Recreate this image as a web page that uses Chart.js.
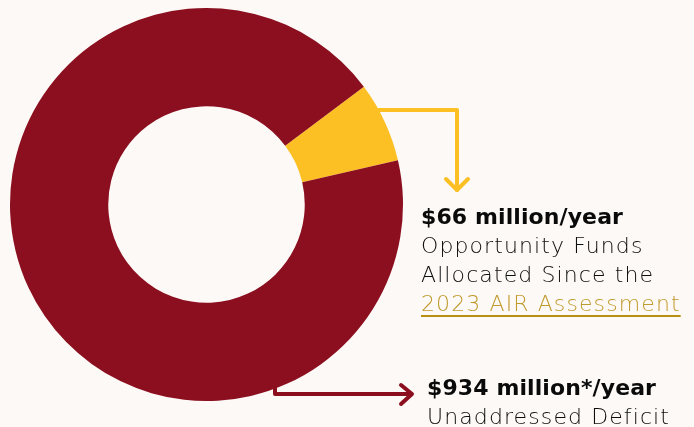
<!DOCTYPE html>
<html>
<head>
<meta charset="utf-8">
<script src="https://cdn.jsdelivr.net/npm/chart.js@4"></script>
<style>
  html, body { margin: 0; padding: 0; background: #fcf9f6; }
  #wrap { position: relative; width: 694px; height: 427px; overflow: hidden; }
  #chart { position: absolute; left: 0; top: 0; }
  .nota { position: absolute; font-family: "DejaVu Sans", sans-serif; font-size: 22px; line-height: 29px; color: #0e0e0e; font-weight: 300; letter-spacing: 1.1px; white-space: nowrap; }
  .nota b { color: #0a0a0a; font-weight: 700; letter-spacing: 0.1px; }
  .nota a { color: #c09a2c; text-decoration: underline; text-decoration-color: #b88f10; text-underline-offset: 4px; text-decoration-thickness: 2px; }
</style>
</head>
<body>
<div id="wrap">
  <canvas id="chart" width="694" height="427"></canvas>
  <div class="nota" id="nota-0" style="left:421px; top:202px;"></div>
  <div class="nota" id="nota-1" style="left:427px; top:373px;"></div>
</div>
<script>
// dados (milhões por ano)
const ROTULOS = ['Opportunity Funds', 'Unaddressed Deficit'];
const VALORES = [66, 934];
const CORES = ['#fdc024', '#8b0f1f'];
const TITULOS = ['$66 million/year', '$934 million*/year'];
const DESCRICOES = [
    ['Opportunity Funds', 'Allocated Since the', '<a>2023 AIR Assessment</a>'],
    ['Unaddressed Deficit']
];

TITULOS.forEach((t, i) => {
    document.getElementById('nota-' + i).innerHTML =
        '<b>' + t + '</b><br>' + DESCRICOES[i].join('<br>');
});

// setas desenhadas a partir da geometria do arco
const setasPlugin = {
    id: 'setas',
    afterDraw(chart) {
        const ctx = chart.ctx;
        const arco = chart.getDatasetMeta(0).data[0];
        const cx = arco.x, cy = arco.y, r = arco.outerRadius;

        ctx.save();
        ctx.lineWidth = 4;
        ctx.lineCap = 'round';
        ctx.lineJoin = 'round';

        // seta amarela
        const yA = 110;
        const xA = cx + Math.sqrt(r * r - (cy - yA) * (cy - yA));
        ctx.strokeStyle = CORES[0];
        ctx.beginPath();
        ctx.moveTo(xA, yA);
        ctx.lineTo(457, yA);
        ctx.lineTo(457, 190);
        ctx.stroke();
        ctx.beginPath();
        ctx.moveTo(446, 179);
        ctx.lineTo(457, 190);
        ctx.lineTo(468, 179);
        ctx.stroke();

        // seta vermelha
        const xB = 275;
        const yB = cy + Math.sqrt(r * r - (xB - cx) * (xB - cx)) - 2;
        ctx.strokeStyle = CORES[1];
        ctx.lineCap = 'butt';
        ctx.beginPath();
        ctx.moveTo(xB, yB);
        ctx.lineTo(xB, 394);
        ctx.lineTo(412, 394);
        ctx.stroke();
        ctx.lineCap = 'round';
        ctx.beginPath();
        ctx.moveTo(401, 385);
        ctx.lineTo(412, 394);
        ctx.lineTo(401, 404);
        ctx.stroke();
        ctx.restore();
    }
};

new Chart(document.getElementById('chart'), {
    type: 'doughnut',
    data: {
        labels: ROTULOS,
        datasets: [{
            data: VALORES,
            backgroundColor: CORES,
            borderWidth: 0
        }]
    },
    options: {
        responsive: false,
        animation: false,
        rotation: 53.2,
        cutout: '50%',
        layout: { padding: { left: 10, top: 8, right: 291, bottom: 26 } },
        plugins: {
            legend: { display: false },
            tooltip: { enabled: false }
        }
    },
    plugins: [setasPlugin]
});
</script>
</body>
</html>
